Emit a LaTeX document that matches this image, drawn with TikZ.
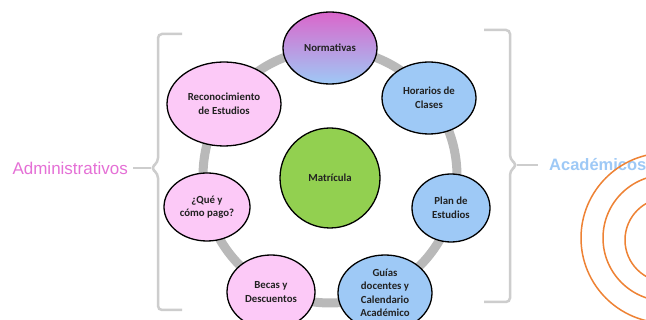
\documentclass[tikz,border=0pt]{standalone}
\usepackage{fontspec}
\setmainfont{Carlito}
\newfontfamily\rotulo{Liberation Sans}
\usetikzlibrary{shapes.geometric}
\definecolor{rosa}{HTML}{FCC9F7}
\definecolor{azul}{HTML}{9EC9F6}
\definecolor{verde}{HTML}{92D050}
\definecolor{fucsia}{HTML}{DA66CB}
\definecolor{letrarosa}{HTML}{E570D6}
\definecolor{grisclaro}{HTML}{C8C2C4}
\definecolor{anillo}{HTML}{B9B9B9}
\definecolor{llave}{HTML}{CDCDCD}
\definecolor{naranja}{HTML}{EE8234}
\definecolor{tinta}{HTML}{222222}
\tikzstyle{tema} = [ellipse, draw=black, line width=1.3pt, inner sep=0, align=center, text=tinta, font=\bfseries\fontsize{10.8}{13.5}\selectfont]
\tikzstyle{admin} = [tema, fill=rosa]
\tikzstyle{acad} = [tema, fill=azul]
\tikzstyle{llavecurva} = [llave, line width=2.5pt, rounded corners=4pt]

\begin{document}
\begin{tikzpicture}[x=1pt, y=-1pt]
\clip (0,0) rectangle (646,320);
\fill [white] (0,0) rectangle (646,320);
% anillo de fondo
\draw [anillo, line width=9pt] (330,176) circle (127pt);
% temas
\node [tema, minimum width=100pt, minimum height=100pt, circle, fill=verde] (matr) at (330,178) {Matrícula};
\node [tema, minimum width=94pt, minimum height=72pt, top color=fucsia, middle color=grisclaro, bottom color=azul] (norm) at (330,48) {Normativas};
\node [admin, minimum width=114pt, minimum height=84pt] (reco) at (224,104) {Reconocimiento\\de Estudios};
\node [acad, minimum width=94pt, minimum height=72pt] (hora) at (429,98) {Horarios de\\Clases};
\node [admin, minimum width=86pt, minimum height=68pt] (pago) at (207,207) {¿Qué y\\cómo pago?};
\node [acad, minimum width=78pt, minimum height=68pt] (plan) at (451,208) {Plan de\\Estudios};
\node [admin, minimum width=88pt, minimum height=74pt] (becas) at (271,292) {Becas y\\Descuentos};
\node [acad, minimum width=94pt, minimum height=76pt] (guias) at (385,293) {Guías\\docentes y\\Calendario\\Académico};
% rotulos laterales
\node [draw=none, inner sep=0, anchor=east, text=letrarosa, font=\rotulo\fontsize{17}{20}\selectfont] (adm) at (128,168) {Administrativos};
\node [draw=none, inner sep=0, anchor=west, text=azul, font=\rotulo\bfseries\fontsize{16.5}{20}\selectfont] (aca) at (549,165) {Académicos};
% llaves
\draw [llavecurva] (182,34) -- (158,34) -- (158,162) -- (151,168) -- (158,174) -- (158,310) -- (182,310);
\coordinate (picoizq) at (151,168);
\draw [llave, line width=2.5pt] (picoizq) -- ([xshift=5pt]adm.east);
\draw [llavecurva] (484,30) -- (510,30) -- (510,159) -- (517,165) -- (510,171) -- (510,302) -- (484,302);
\coordinate (picoder) at (517,165);
\draw [llave, line width=2.5pt] (picoder) -- ([xshift=-11pt]aca.west);
% circulos naranjas
\draw [naranja, line width=1.5pt] (666,238) circle (85pt);
\draw [naranja, line width=1.5pt] (666,238) circle (63pt);
\draw [naranja, line width=1.5pt] (667,240) circle (42pt);
\end{tikzpicture}
\end{document}
